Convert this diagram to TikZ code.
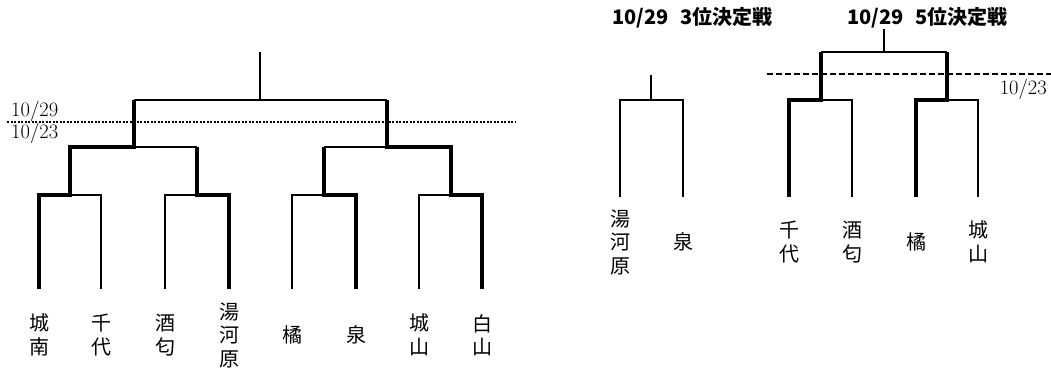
\documentclass[tikz,border=0pt]{standalone}
\usepackage{fontspec}
\newfontfamily\jp{Noto Sans CJK JP}
\tikzset{
  lose/.style={line width=1.5pt},
  win/.style={line width=4.5pt},
  team/.style={font=\jp\fontsize{20}{23.5}\selectfont, align=center, inner sep=0pt},
  day/.style={font=\fontsize{20.5}{22}\selectfont, inner sep=0pt},
  head/.style={font=\jp\bfseries\fontsize{20}{22}\selectfont, inner sep=0pt, anchor=west}
}
\begin{document}
\begin{tikzpicture}[x=1pt, y=-1pt]
%\draw [help lines, step=50] (0,0) grid (1051,371);
\useasboundingbox (0,0) rectangle (1051,371);

% main bracket
\coordinate (a1) at (39,289);
\coordinate (a2) at (101,289);
\coordinate (a3) at (165,289);
\coordinate (a4) at (229,289);
\coordinate (a5) at (292,289);
\coordinate (a6) at (356,289);
\coordinate (a7) at (419,289);
\coordinate (a8) at (482,289);

\coordinate (p1) at (70,195);
\coordinate (p2) at (197,195);
\coordinate (p3) at (324,195);
\coordinate (p4) at (451,195);
\coordinate (q1) at (134,147);
\coordinate (q2) at (387,147);
\coordinate (f) at (260,100);
\coordinate (top) at (260,52);

\draw [lose] (a2) |- (p1);
\draw [lose] (a3) |- (p2);
\draw [lose] (a5) |- (p3);
\draw [lose] (a7) |- (p4);
\draw [lose] (p2 |- q1) -- (q1);
\draw [lose] (p3 |- q2) -- (q2);
\draw [lose] (q1 |- f) -- (q2 |- f);
\draw [lose] (f) -- (top);

\draw [win] (a1) |- (p1) |- (q1) -- (q1 |- f);
\draw [win] (a4) |- (p2) -- (p2 |- q1);
\draw [win] (a6) |- (p3) -- (p3 |- q2);
\draw [win] (a8) |- (p4) |- (q2) -- (q2 |- f);

\draw [line width=1.5pt, dash pattern=on 2pt off 1.5pt] (7,122) -- (515,122);
\node [day, anchor=west] (d29) at (11,111) {10/29};
\node [day, anchor=west] (d23) at (11,133) {10/23};

\node [team] (n1) at (39,335) {城\\南};
\node [team] (n2) at (101,335) {千\\代};
\node [team] (n3) at (165,335) {酒\\匂};
\node [team] (n4) at (229,335) {湯\\河\\原};
\node [team] (n5) at (292,335) {橘};
\node [team] (n6) at (356,335) {泉};
\node [team] (n7) at (419,335) {城\\山};
\node [team] (n8) at (482,335) {白\\山};

% 3rd place
\node [head] (h3) at (612,18) {10/29\hspace{12pt}3位決定戦};
\coordinate (c1) at (620,197);
\coordinate (c2) at (683,197);
\coordinate (tc) at (651,100);
\coordinate (tct) at (651,75);
\draw [lose] (c1) |- (tc) -| (c2);
\draw [lose] (tc) -- (tct);

\node [team] (m1) at (620,242) {湯\\河\\原};
\node [team] (m2) at (683,242) {泉};

% 5th place
\node [head] (h5) at (847,18) {10/29\hspace{12pt}5位決定戦};
\coordinate (d1) at (789,197);
\coordinate (d2) at (852,197);
\coordinate (d3) at (916,197);
\coordinate (d4) at (978,197);
\coordinate (e1) at (821,100);
\coordinate (e2) at (947,100);
\coordinate (g) at (884,52);

\draw [lose] (d2) |- (e1);
\draw [lose] (d4) |- (e2);
\draw [lose] (e1 |- g) -- (e2 |- g);
\draw [lose] (g) -- (g |- h5.south);
\draw [win] (d1) |- (e1) -- (e1 |- g);
\draw [win] (d3) |- (e2) -- (e2 |- g);

\draw [line width=1.5pt, dash pattern=on 6pt off 3pt] (767,74) -- (1051,74);
\node [day, anchor=east] (d23r) at (1047,89) {10/23};

\node [team] (k1) at (789,242) {千\\代};
\node [team] (k2) at (852,242) {酒\\匂};
\node [team] (k3) at (916,242) {橘};
\node [team] (k4) at (978,242) {城\\山};

\end{tikzpicture}
\end{document}
